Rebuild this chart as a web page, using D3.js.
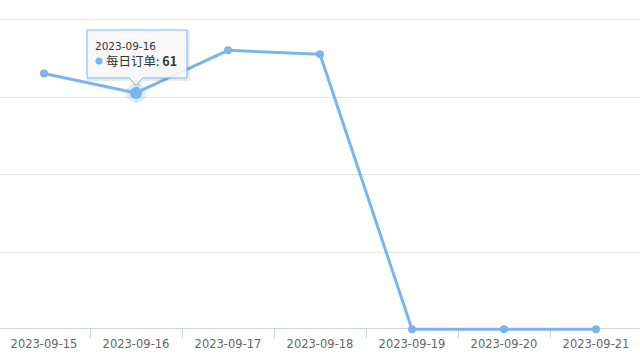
<!DOCTYPE html>
<html><head><meta charset="utf-8">
<script src="https://cdn.jsdelivr.net/npm/d3@7"></script>
<style>
html,body{margin:0;padding:0;background:#fff;}
svg{display:block;font-family:"DejaVu Sans","Lucida Grande",Verdana,sans-serif;}
</style></head>
<body>
<svg id="c" width="640" height="360"></svg>
<script>
const categories = ["2023-09-15","2023-09-16","2023-09-17","2023-09-18","2023-09-19","2023-09-20","2023-09-21"];
const seriesName = "每日订单";
const values = [66, 61, 72, 71, 0, 0, 0];
const yTicks = [0, 20, 40, 60, 80];
const hoverIndex = 1;

const W = 640, H = 360;
const svg = d3.select("#c");
const x = d3.scaleBand().domain(categories).range([-2, 642]);
const y = d3.scaleLinear().domain([0, 80]).range([329.3, 19.3]);

// gridlines
svg.append("g").selectAll("line").data(yTicks.filter(d => d > 0)).join("line")
  .attr("x1", 0).attr("x2", W)
  .attr("y1", d => Math.round(y(d)) + 0.5).attr("y2", d => Math.round(y(d)) + 0.5)
  .attr("stroke", "#e6e6e6").attr("stroke-width", 1);

// x axis
const xAxis = svg.append("g").attr("transform", `translate(0,${Math.round(y(0)) - 0.5})`);
xAxis.append("line").attr("x1", 0).attr("x2", W).attr("stroke", "#ccd6eb");
const bounds = categories.slice(1).map(c => x(c));
xAxis.selectAll("line.tick").data(bounds).join("line").attr("class", "tick")
  .attr("x1", d => Math.round(d) + 0.5).attr("x2", d => Math.round(d) + 0.5)
  .attr("y1", 0).attr("y2", 10).attr("stroke", "#ccd6eb");
xAxis.selectAll("text").data(categories).join("text")
  .attr("x", d => x(d) + x.bandwidth() / 2).attr("y", 19)
  .attr("text-anchor", "middle").attr("font-size", "11.5px").attr("fill", "#666")
  .text(d => d);

// line
const cx = (d, i) => x(categories[i]) + x.bandwidth() / 2;
const line = d3.line().x((d, i) => cx(d, i)).y(d => y(d));
svg.append("path").datum(values).attr("d", line)
  .attr("fill", "none").attr("stroke", "#7cb5ec").attr("stroke-width", 3)
  .attr("stroke-linejoin", "round");

// halo for hovered point
svg.append("circle").attr("cx", cx(values[hoverIndex], hoverIndex)).attr("cy", y(values[hoverIndex]))
  .attr("r", 10).attr("fill", "#7cb5ec").attr("opacity", 0.25);

svg.append("g").selectAll("circle").data(values).join("circle")
  .attr("cx", cx).attr("cy", d => y(d))
  .attr("r", (d, i) => i === hoverIndex ? 6 : 4)
  .attr("fill", "#7cb5ec");

// tooltip
const px = cx(values[hoverIndex], hoverIndex), py = y(values[hoverIndex]);
const tw = 100, th = 48;
const tx = px - 49, ty = 30;
const tt = svg.append("g");
const pathD = `M${tx},${ty} h${tw} v${th} H${px + 7} L${px},${ty + th + 7} L${px - 7},${ty + th} H${tx} Z`;
tt.append("path").attr("d", pathD).attr("transform", "translate(1.5,1.5)")
  .attr("fill", "none").attr("stroke", "#000").attr("stroke-opacity", 0.08).attr("stroke-width", 3);
tt.append("path").attr("d", pathD)
  .attr("fill", "#f7f7f7").attr("fill-opacity", 0.9).attr("stroke", "#7cb5ec").attr("stroke-width", 1);
tt.append("text").attr("x", tx + 8).attr("y", ty + 20).attr("font-size", "10.5px").attr("fill", "#333")
  .text(categories[hoverIndex]);
tt.append("circle").attr("cx", tx + 12).attr("cy", ty + 31).attr("r", 3.5).attr("fill", "#7cb5ec");
const t2 = tt.append("text").attr("x", tx + 19).attr("y", ty + 35.5).attr("font-size", "12.5px").attr("fill", "#333")
  .attr("font-family", "'Noto Sans CJK SC','DejaVu Sans',sans-serif");
t2.append("tspan").text(seriesName + ": ");
t2.append("tspan").attr("font-weight", "bold").text(values[hoverIndex]);
</script>
</body></html>
